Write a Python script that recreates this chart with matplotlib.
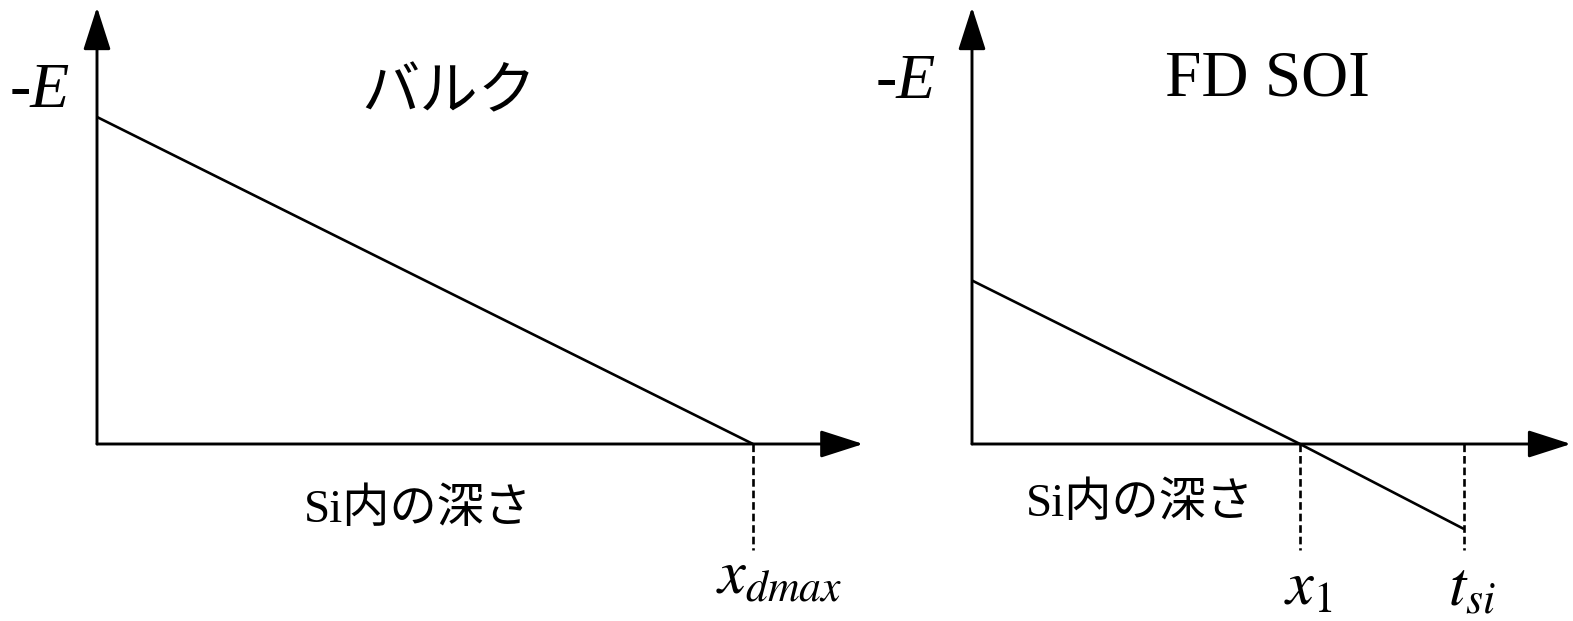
import matplotlib
matplotlib.use("Agg")
import matplotlib.pyplot as plt

# Electric-field profiles (-E versus depth in Si), normalised units
bulk_depth = [0.0, 1.0]          # surface -> x_dmax
bulk_field = [1.0, 0.0]
soi_depth = [0.0, 0.5, 0.75]     # surface -> x1 -> t_si
soi_field = [0.5, 0.0, -0.26]

panel_titles = ["バルク", "FD SOI"]
y_label = "-E"
x_label = "Si内の深さ"
bulk_marks = [(1.0, r"$x_{dmax}$")]
soi_marks = [(0.5, r"$x_1$"), (0.75, r"$t_{si}$")]

plt.rcParams["mathtext.fontset"] = "stix"
plt.rcParams["lines.scale_dashes"] = False

W, H = 1573, 621
fig = plt.figure(figsize=(W / 100, H / 100), dpi=100)

SX, SY = 656.0, 327.0        # pixels per unit depth / unit field
ORIGIN_Y = 444               # pixel row of the depth axis


def make_panel(x0_px):
    ax = fig.add_axes([0, 0, 1, 1])
    ax.set_xlim(-x0_px / SX, (W - x0_px) / SX)
    ax.set_ylim(-(H - ORIGIN_Y) / SY, ORIGIN_Y / SY)
    ax.axis("off")
    ax.patch.set_alpha(0)
    return ax


def draw_axes_arrows(ax, x_tip, y_tip):
    style = "-|>,head_length=2.65,head_width=0.85"
    for tip in [(x_tip, 0), (0, y_tip)]:
        ax.annotate("", xy=tip, xytext=(0, 0),
                    arrowprops=dict(arrowstyle=style, mutation_scale=10,
                                    lw=2.1, color="black",
                                    shrinkA=0, shrinkB=0))


serif = ["Liberation Serif", "Noto Sans CJK JP"]
mixed = ["Liberation Serif", "Noto Sans CJK JP"]
dash_bottom = -106 / SY

# ---- bulk panel ----
ax1 = make_panel(97)
draw_axes_arrows(ax1, 1.168, 1.336)
ax1.plot(bulk_depth, bulk_field, color="black", lw=1.9,
         solid_capstyle="butt")
for xv, lab in bulk_marks:
    ax1.plot([xv, xv], [0, dash_bottom], color="black", lw=1.9,
             dashes=(5.5, 2.8))
    ax1.text(xv + 26 / SX, -149 / SY, lab, fontsize=45, ha="center",
             va="baseline")
ax1.text(-57 / SX, 352 / SY, y_label, fontsize=46, style="italic",
         family=serif, ha="center", va="center")
ax1.text(352 / SX, 351 / SY, panel_titles[0], fontsize=42,
         family=["Noto Sans CJK JP"], ha="center", va="center")
ax1.text(321 / SX, -66 / SY, x_label, fontsize=34, family=mixed,
         ha="center", va="center")

# ---- FD SOI panel ----
ax2 = make_panel(972)
draw_axes_arrows(ax2, 0.913, 1.336)
ax2.plot(soi_depth, soi_field, color="black", lw=1.9,
         solid_capstyle="butt")
for xv, lab in soi_marks:
    ax2.plot([xv, xv], [0, dash_bottom], color="black", lw=1.9,
             dashes=(5.5, 2.8))
    ax2.text(xv + 8 / SX, -161 / SY, lab, fontsize=45, ha="center",
             va="baseline")
ax2.text(-66 / SX, 361 / SY, y_label, fontsize=46, style="italic",
         family=serif, ha="center", va="center")
ax2.text(295 / SX, 364 / SY, panel_titles[1], fontsize=47,
         family=serif, ha="center", va="center")
ax2.text(168 / SX, -60 / SY, x_label, fontsize=34, family=mixed,
         ha="center", va="center")

fig.savefig("out.png", dpi=100, facecolor="white")
